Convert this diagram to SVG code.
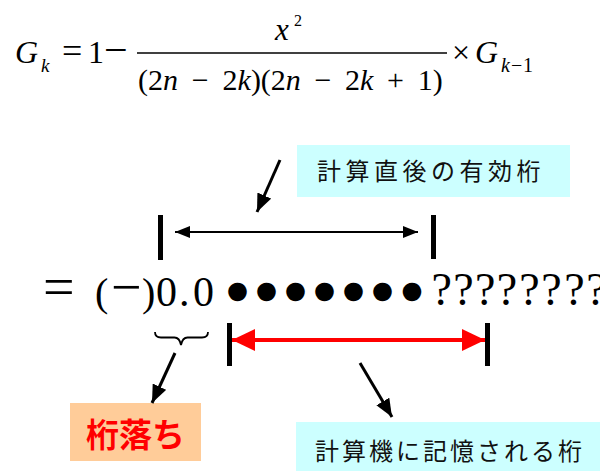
<svg xmlns="http://www.w3.org/2000/svg" width="600" height="471" viewBox="0 0 600 471">
<style>
.m{font-family:"Liberation Serif","Times New Roman",serif;fill:#000}
.i{font-style:italic}
.jp{font-family:"Noto Sans CJK JP","Noto Sans",sans-serif;fill:#111}
.bar{stroke:#000;stroke-width:5}
.ptr{stroke:#000;stroke-width:3;fill:none}
</style>
<defs>
<marker id="hb" viewBox="0 0 15 12" refX="15" refY="6" markerWidth="15" markerHeight="12" markerUnits="userSpaceOnUse" orient="auto-start-reverse"><path d="M0,0 L15,6 L0,12 z" fill="#000"/></marker>
<marker id="hr" viewBox="0 0 23 22" refX="23" refY="11" markerWidth="23" markerHeight="22" markerUnits="userSpaceOnUse" orient="auto-start-reverse"><path d="M0,0 L23,11 L0,22 z" fill="#f00"/></marker>
<marker id="hp" viewBox="0 0 18 15" refX="18" refY="7.5" markerWidth="18" markerHeight="15" markerUnits="userSpaceOnUse" orient="auto"><path d="M0,0 L18,7.5 L0,15 z" fill="#000"/></marker>
</defs>

<g id="formula">
<text class="m i" x="15" y="63" font-size="32">G</text>
<text class="m i" x="41" y="72" font-size="19">k</text>
<text class="m" x="62" y="63" font-size="36">=</text>
<text class="m" x="88" y="63" font-size="32">1</text>
<text class="m" x="104" y="63.5" font-size="42">−</text>
<text class="m i" x="275" y="40" font-size="31">x</text>
<text class="m" x="294" y="26" font-size="16">2</text>
<line x1="137" y1="53" x2="447" y2="53" stroke="#000" stroke-width="1.6"/>
<text class="m" y="90" font-size="30"><tspan x="138">(</tspan><tspan x="148">2</tspan><tspan class="i" x="163">n</tspan><tspan x="191.7">−</tspan><tspan x="222.4">2</tspan><tspan class="i" x="237.4">k</tspan><tspan x="251">)</tspan><tspan x="260.7">(</tspan><tspan x="270.7">2</tspan><tspan class="i" x="285.7">n</tspan><tspan x="314.4">−</tspan><tspan x="345">2</tspan><tspan class="i" x="360">k</tspan><tspan x="387">+</tspan><tspan x="417.8">1</tspan><tspan x="432.8">)</tspan></text>
<text class="m" x="452" y="63" font-size="32">×</text>
<text class="m i" x="475" y="63" font-size="32">G</text>
<text class="m" y="72" font-size="20"><tspan class="i" x="501">k</tspan><tspan x="511">−</tspan><tspan x="523">1</tspan></text>
</g>

<g id="value">
<text class="m" x="43" y="306" font-size="56">=</text>
<text class="m" x="95" y="306" font-size="40">(</text>
<text class="m" x="111" y="305" font-size="54">−</text>
<text class="m" x="142" y="306" font-size="40">)</text>
<text class="m" y="306" font-size="42"><tspan x="156">0</tspan><tspan x="179">.</tspan><tspan x="193">0</tspan></text>
<text x="237.5 266.5 295.5 324.5 353.5 382.5 412" y="304" font-size="43" text-anchor="middle" style="font-family:'Liberation Sans',sans-serif">●●●●●●●</text>
<text class="m" x="441.6 463.5 485.3 507 529.5 551.5 574.5 596.5" y="305" font-size="46" text-anchor="middle">????????</text>
</g>

<g id="brace">
<path d="M155,332 Q155,337.5 161,337.5 H174.5 Q179.5,337.5 181,345 Q182.5,337.5 187.5,337.5 H202 Q208,337.5 208,332" fill="none" stroke="#000" stroke-width="1.8"/>
</g>

<g id="label-effective">
<rect x="297" y="145" width="273" height="52" fill="#ccffff"/>
<text class="jp" x="317" y="180" font-size="24" letter-spacing="4.5">計算直後の有効桁</text>
</g>

<g id="label-cancel">
<rect x="70" y="403" width="131" height="58" fill="#ffcc99"/>
<text x="135.5" y="447" font-size="33" font-weight="bold" text-anchor="middle" style="font-family:'Noto Sans CJK JP',sans-serif" fill="#ff0000">桁落ち</text>
</g>

<g id="label-stored">
<rect x="296" y="422" width="304" height="49" fill="#ccffff"/>
<text class="jp" x="315" y="460" font-size="24" letter-spacing="3">計算機に記憶される桁</text>
</g>

<g id="connectors">
<line class="bar" x1="160.5" y1="215" x2="160.5" y2="260"/>
<line class="bar" x1="433.5" y1="215" x2="433.5" y2="259"/>
<line x1="175" y1="232" x2="418" y2="232" stroke="#000" stroke-width="2" marker-start="url(#hb)" marker-end="url(#hb)"/>
<line class="bar" x1="229.5" y1="323" x2="229.5" y2="366"/>
<line class="bar" x1="487.5" y1="323" x2="487.5" y2="366"/>
<line x1="232" y1="340" x2="485" y2="340" stroke="#f00" stroke-width="4" marker-start="url(#hr)" marker-end="url(#hr)"/>
<line class="ptr" x1="280" y1="160" x2="257" y2="212" marker-end="url(#hp)"/>
<line class="ptr" x1="175" y1="353" x2="152" y2="403" marker-end="url(#hp)"/>
<line class="ptr" x1="360" y1="363" x2="392" y2="417" marker-end="url(#hp)"/>
</g>
</svg>
